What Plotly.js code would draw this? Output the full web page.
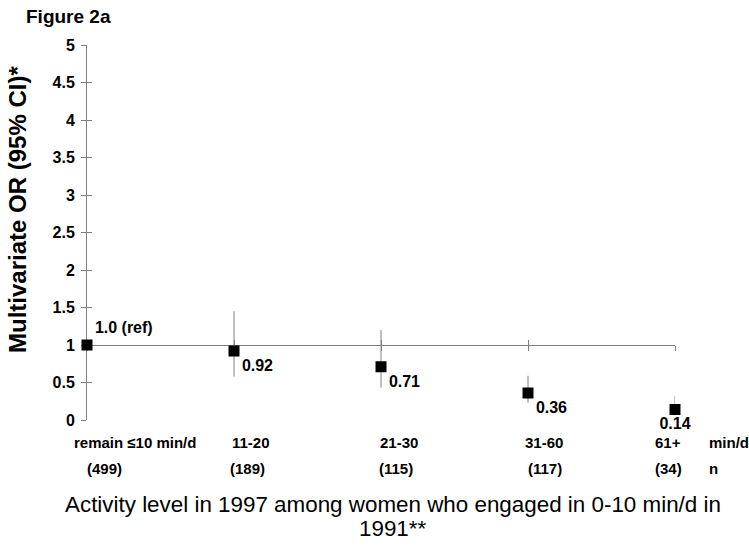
<!DOCTYPE html>
<html>
<head>
<meta charset="utf-8">
<script src="https://cdn.plot.ly/plotly-3.0.1.min.js"></script>
<style>html,body{margin:0;padding:0;background:#fff;}#chart{width:749px;height:546px;}</style>
</head>
<body>
<div id="chart"></div>
<script>
// ---- data ----
const categories = ['remain \u226410 min/d', '11-20', '21-30', '31-60', '61+'];
const sampleSizes = ['(499)', '(189)', '(115)', '(117)', '(34)'];
const orValues = [1.0, 0.92, 0.71, 0.36, 0.14];
const ciUpper = [1.0, 1.45, 1.20, 0.59, 0.32];
const ciLower = [1.0, 0.58, 0.43, 0.23, 0.06];
const valueLabels = ['1.0 (ref)', '0.92', '0.71', '0.36', '0.14'];
const yTicks = [0, 0.5, 1, 1.5, 2, 2.5, 3, 3.5, 4, 4.5, 5];
const refValue = 1;

// ---- styling (label placement offsets, px) ----
const labelPositions = ['top right', 'bottom right', 'bottom right', 'bottom right', 'bottom center'];
const catShift = [48, 17, 18, 16, -7];
const nShift = [17, 13, 15, 17, -7];

const xIdx = categories.map((c, i) => i);
const gray = '#808080';
const bold = 'Liberation Sans, Arial, sans-serif';

const traces = [
  {
    type: 'scatter', mode: 'markers', x: [], y: [],
    xaxis: 'x2', yaxis: 'y2', showlegend: false
  },
  {
    type: 'scatter', mode: 'markers+text',
    x: xIdx, y: orValues,
    text: valueLabels.map(t => '<b>' + t + '</b>'),
    textposition: labelPositions,
    textfont: {family: bold, size: 16, color: '#000'},
    marker: {symbol: 'square', size: 11, color: '#000', line: {width: 0}},
    error_y: {
      type: 'data', symmetric: false,
      array: ciUpper.map((u, i) => u - orValues[i]),
      arrayminus: ciLower.map((l, i) => orValues[i] - l),
      color: gray, thickness: 1, width: 0
    },
    cliponaxis: false, showlegend: false, hoverinfo: 'skip'
  }
];

const annotations = [];
categories.forEach((c, i) => {
  annotations.push({
    x: i, xref: 'x', y: 0, yref: 'paper', yanchor: 'middle', yshift: -22, xshift: catShift[i],
    text: '<b>' + c + '</b>', showarrow: false,
    font: {family: bold, size: 15, color: '#000'}
  });
  annotations.push({
    x: i, xref: 'x', y: 0, yref: 'paper', yanchor: 'middle', yshift: -48, xshift: nShift[i],
    text: '<b>' + sampleSizes[i] + '</b>', showarrow: false,
    font: {family: bold, size: 15, color: '#000'}
  });
});
annotations.push({
  x: (707 - 87) / 588, xref: 'paper', y: 0, yref: 'paper', xanchor: 'left', yanchor: 'middle', yshift: -22,
  text: '<b>min/d</b>', showarrow: false, font: {family: bold, size: 15, color: '#000'}
});
annotations.push({
  x: (707 - 87) / 588, xref: 'paper', y: 0, yref: 'paper', xanchor: 'left', yanchor: 'middle', yshift: -48,
  text: '<b>n</b>', showarrow: false, font: {family: bold, size: 15, color: '#000'}
});
annotations.push({
  x: (393 - 87) / 588, xref: 'paper', y: 0, yref: 'paper', yanchor: 'middle', yshift: -84,
  text: 'Activity level in 1997 among women who engaged in 0-10 min/d in', showarrow: false,
  font: {family: 'Liberation Sans, Arial, sans-serif', size: 22.4, color: '#000'}
});
annotations.push({
  x: (393 - 87) / 588, xref: 'paper', y: 0, yref: 'paper', yanchor: 'middle', yshift: -108,
  text: '1991**', showarrow: false,
  font: {family: 'Liberation Sans, Arial, sans-serif', size: 22.4, color: '#000'}
});
annotations.push({
  x: (18 - 87) / 588, xref: 'paper', xanchor: 'center',
  y: (420 - 210) / 375, yref: 'paper', yanchor: 'middle',
  textangle: -90, text: '<b>Multivariate OR (95% CI)*</b>', showarrow: false,
  font: {family: bold, size: 24, color: '#000'}
});

const axisCommon = {showgrid: false, zeroline: false, layer: 'below traces'};

const layout = {
  width: 749, height: 546,
  margin: {l: 87, r: 74, t: 45, b: 126},
  paper_bgcolor: '#fff', plot_bgcolor: '#fff',
  title: {
    text: '<b>Figure 2a</b>', x: 26 / 749, xanchor: 'left', xref: 'container',
    y: 1 - 16 / 546, yanchor: 'middle', yref: 'container',
    font: {family: bold, size: 19, color: '#000'}
  },
  xaxis: Object.assign({
    range: [0, categories.length - 1], anchor: 'free', position: refValue / 5,
    showline: true, linecolor: gray, linewidth: 1,
    ticks: 'outside', ticklen: 5, tickcolor: gray, tickwidth: 1,
    tickvals: xIdx, showticklabels: false
  }, axisCommon),
  xaxis2: Object.assign({
    range: [0, categories.length - 1], overlaying: 'x', anchor: 'free', position: refValue / 5,
    showline: false, ticks: 'inside', ticklen: 5, tickcolor: gray, tickwidth: 1,
    tickvals: xIdx, showticklabels: false
  }, axisCommon),
  yaxis: Object.assign({
    range: [0, 5], showline: true, linecolor: gray, linewidth: 1,
    ticks: 'outside', ticklen: 5, tickcolor: gray, tickwidth: 1,
    tickvals: yTicks, ticktext: yTicks.map(v => '<b>' + v + '</b>'),
    tickfont: {family: bold, size: 16, color: '#000'},
    ticklabelstandoff: 3
  }, axisCommon),
  yaxis2: Object.assign({
    range: [0, 5], overlaying: 'y', anchor: 'x2', side: 'left',
    showline: false, ticks: 'inside', ticklen: 5, tickcolor: gray, tickwidth: 1,
    tickvals: yTicks, showticklabels: false
  }, axisCommon),
  annotations: annotations,
  showlegend: false
};

Plotly.newPlot('chart', traces, layout, {displayModeBar: false, staticPlot: true});
</script>
</body>
</html>
